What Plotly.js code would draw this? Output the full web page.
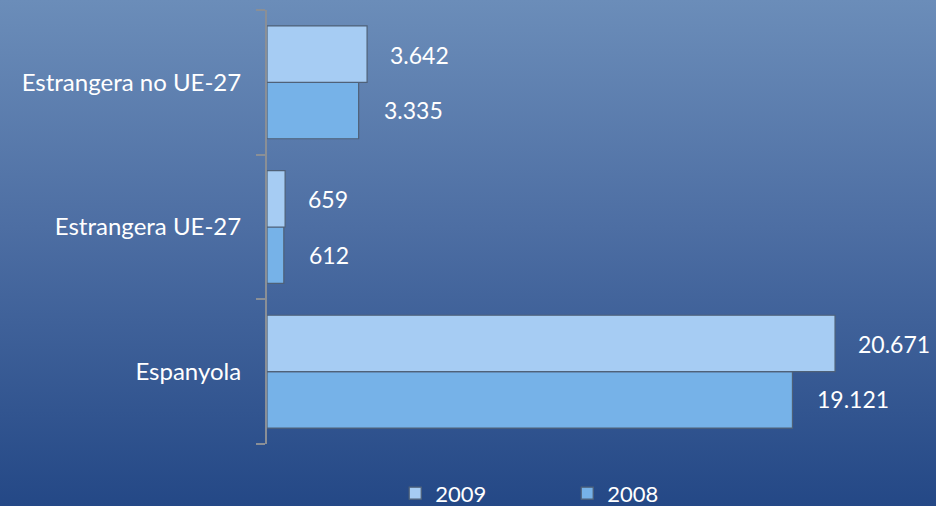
<!DOCTYPE html>
<html>
<head>
<meta charset="utf-8">
<script src="https://cdn.plot.ly/plotly-3.0.1.min.js"></script>
<style>
  html, body { margin:0; padding:0; }
  body { width:936px; height:506px; background: linear-gradient(to bottom, #6b8db9 0%, #4d6ea3 45%, #244886 100%); }
  #chart { width:936px; height:506px; }
</style>
</head>
<body>
<div id="chart"></div>
<script>
const categories = ['Espanyola', 'Estrangera UE-27', 'Estrangera no UE-27'];
const values2009 = [20671, 659, 3642];
const values2008 = [19121, 612, 3335];
const seriesNames = ['2009', '2008'];

function fmt(v) {
  return String(v).replace(/\B(?=(\d{3})+(?!\d))/g, '.');
}

const traces = [
  {
    type: 'bar', orientation: 'h', name: seriesNames[1],
    y: categories, x: values2008,
    marker: { color: '#76b2e8', line: { color: '#4f6178', width: 1.2 } },
    hoverinfo: 'none'
  },
  {
    type: 'bar', orientation: 'h', name: seriesNames[0],
    y: categories, x: values2009,
    marker: { color: '#a6ccf3', line: { color: '#4f6178', width: 1.2 } },
    hoverinfo: 'none'
  }
];

const bandPx = 145;
const annotations = [];
categories.forEach((c, i) => {
  annotations.push({ x: values2009[i], y: c, text: fmt(values2009[i]), xanchor: 'left', yanchor: 'middle',
    xshift: 21, yshift: 0.19 * bandPx, showarrow: false,
    font: { family: 'Lato', size: 23, color: '#ffffff' }, yref: 'y', xref: 'x' });
  annotations.push({ x: values2008[i], y: c, text: fmt(values2008[i]), xanchor: 'left', yanchor: 'middle',
    xshift: 23, yshift: -0.19 * bandPx, showarrow: false,
    font: { family: 'Lato', size: 23, color: '#ffffff' }, yref: 'y', xref: 'x' });
});

const layout = {
  width: 936, height: 506,
  paper_bgcolor: 'rgba(0,0,0,0)', plot_bgcolor: 'rgba(0,0,0,0)',
  margin: { l: 267, r: 10, t: 10, b: 62 },
  barmode: 'group', bargap: 0.22, bargroupgap: 0,
  font: { family: 'Lato', color: '#ffffff' },
  xaxis: { range: [0, 23981], visible: false, fixedrange: true },
  yaxis: {
    type: 'category', showline: true, linecolor: '#8a8f96', linewidth: 2,
    ticks: 'outside', tickson: 'boundaries', ticklen: 9, tickcolor: '#8a8f96', tickwidth: 2,
    showgrid: false, zeroline: false, ticklabelstandoff: 19,
    tickfont: { family: 'Lato', size: 24, color: '#ffffff' }, fixedrange: true
  },
  showlegend: true,
  legend: {
    orientation: 'h', traceorder: 'reversed', xref: 'container', yref: 'container',
    x: 0.606, xanchor: 'center', y: 0.025, yanchor: 'middle',
    font: { family: 'Lato', size: 22, color: '#ffffff' },
    entrywidth: 127, entrywidthmode: 'pixels', bgcolor: 'rgba(0,0,0,0)', itemwidth: 30
  },
  annotations: annotations
};

Plotly.newPlot('chart', traces, layout, { displayModeBar: false, staticPlot: true });
</script>
</body>
</html>
